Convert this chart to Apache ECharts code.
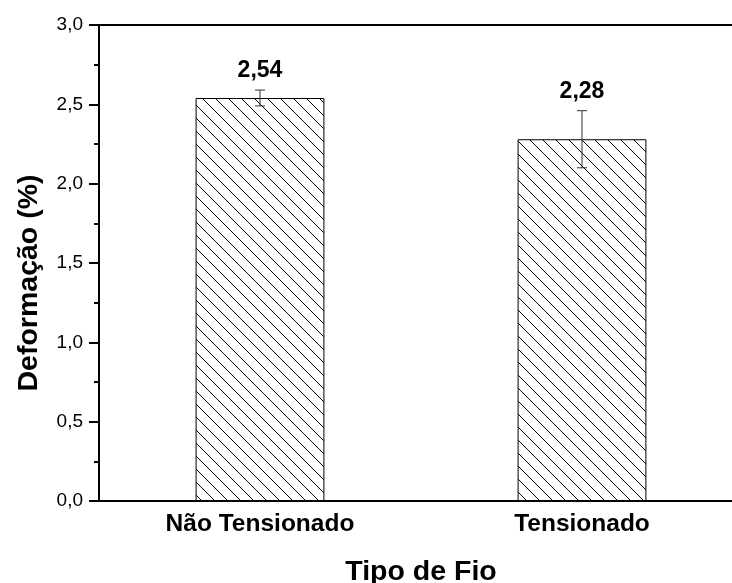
<!DOCTYPE html>
<html>
<head>
<meta charset="utf-8">
<script src="https://cdn.jsdelivr.net/npm/echarts@6/dist/echarts.min.js"></script>
<style>
  html, body { margin: 0; padding: 0; background: #fff; }
  #chart { width: 732px; height: 583px; }
</style>
</head>
<body>
<div id="chart"></div>
<script>
// Strain per wire type, with standard deviation
const categories = ['Não Tensionado', 'Tensionado'];
const deformation = [2.54, 2.28];
const deviation = [0.05, 0.18];
const valueLabels = ['2,54', '2,28'];
const yTickLabels = ['0,0', '0,5', '1,0', '1,5', '2,0', '2,5', '3,0'];

const FONT = '"Liberation Sans", Arial, Helvetica, sans-serif';

// Diagonal "\\" hatch tile for the bar fill
function hatchTile(size) {
  const c = document.createElement('canvas');
  c.width = size; c.height = size;
  const ctx = c.getContext('2d');
  ctx.fillStyle = '#fff';
  ctx.fillRect(0, 0, size, size);
  ctx.strokeStyle = '#000';
  ctx.lineWidth = 1;
  ctx.beginPath();
  for (let k = -1; k <= 1; k++) {
    ctx.moveTo(k * size, 0);
    ctx.lineTo(k * size + size, size);
  }
  ctx.stroke();
  return c;
}

const chart = echarts.init(document.getElementById('chart'), null, { renderer: 'canvas' });

const errData = deformation.map((v, i) => [i, v, deviation[i]]);

chart.setOption({
  animation: false,
  backgroundColor: '#fff',
  grid: {
    left: 99, top: 25, width: 644, height: 476,
    containLabel: false,
    outerBoundsMode: 'none',
    show: true, borderColor: '#000', borderWidth: 2, backgroundColor: 'transparent'
  },
  xAxis: {
    type: 'category',
    data: categories,
    axisLine: { lineStyle: { color: '#000', width: 2 } },
    axisTick: { show: false },
    axisLabel: {
      color: '#000', fontFamily: FONT, fontWeight: 'bold', fontSize: 24.5, margin: 11
    },
    name: 'Tipo de Fio',
    nameLocation: 'middle',
    nameGap: 57,
    nameTextStyle: { color: '#000', fontFamily: FONT, fontWeight: 'bold', fontSize: 28.5 }
  },
  yAxis: {
    type: 'value',
    min: 0, max: 3, interval: 0.5,
    axisLine: { show: true, lineStyle: { color: '#000', width: 2 } },
    axisTick: { show: true, length: 10, lineStyle: { color: '#000', width: 2 } },
    minorTick: { show: true, splitNumber: 2, length: 5, lineStyle: { color: '#000', width: 2 } },
    splitLine: { show: false },
    axisLabel: {
      color: '#000', fontFamily: FONT, fontSize: 19, margin: 16,
      formatter: v => yTickLabels[Math.round(v / 0.5)]
    },
    name: 'Deformação (%)',
    nameLocation: 'middle',
    nameGap: 55,
    nameRotate: 90,
    nameTextStyle: {
      color: '#000', fontFamily: FONT, fontWeight: 'bold', fontSize: 28.5,
      padding: [0, 40, 0, 0]
    }
  },
  series: [
    {
      type: 'bar',
      data: deformation,
      barWidth: '40%',
      itemStyle: {
        color: { image: hatchTile(13), repeat: 'repeat' },
        borderColor: '#000',
        borderWidth: 1
      }
    },
    {
      type: 'custom',
      data: errData,
      z: 5,
      renderItem: (params, api) => {
        const i = api.value(0), v = api.value(1), e = api.value(2);
        const top = api.coord([i, v + e]);
        const bot = api.coord([i, v - e]);
        const x = top[0], hw = 5;
        const ls = { stroke: '#333', lineWidth: 1 };
        return {
          type: 'group',
          children: [
            { type: 'line', shape: { x1: x, y1: top[1], x2: x, y2: bot[1] }, style: ls },
            { type: 'line', shape: { x1: x - hw, y1: top[1], x2: x + hw, y2: top[1] }, style: ls },
            { type: 'line', shape: { x1: x - hw, y1: bot[1], x2: x + hw, y2: bot[1] }, style: ls },
            {
              type: 'text',
              style: {
                text: valueLabels[params.dataIndex],
                x: x, y: top[1] - 19,
                align: 'center', verticalAlign: 'middle',
                fill: '#000', fontFamily: FONT, fontWeight: 'bold', fontSize: 23
              }
            }
          ]
        };
      }
    }
  ]
});
</script>
</body>
</html>
